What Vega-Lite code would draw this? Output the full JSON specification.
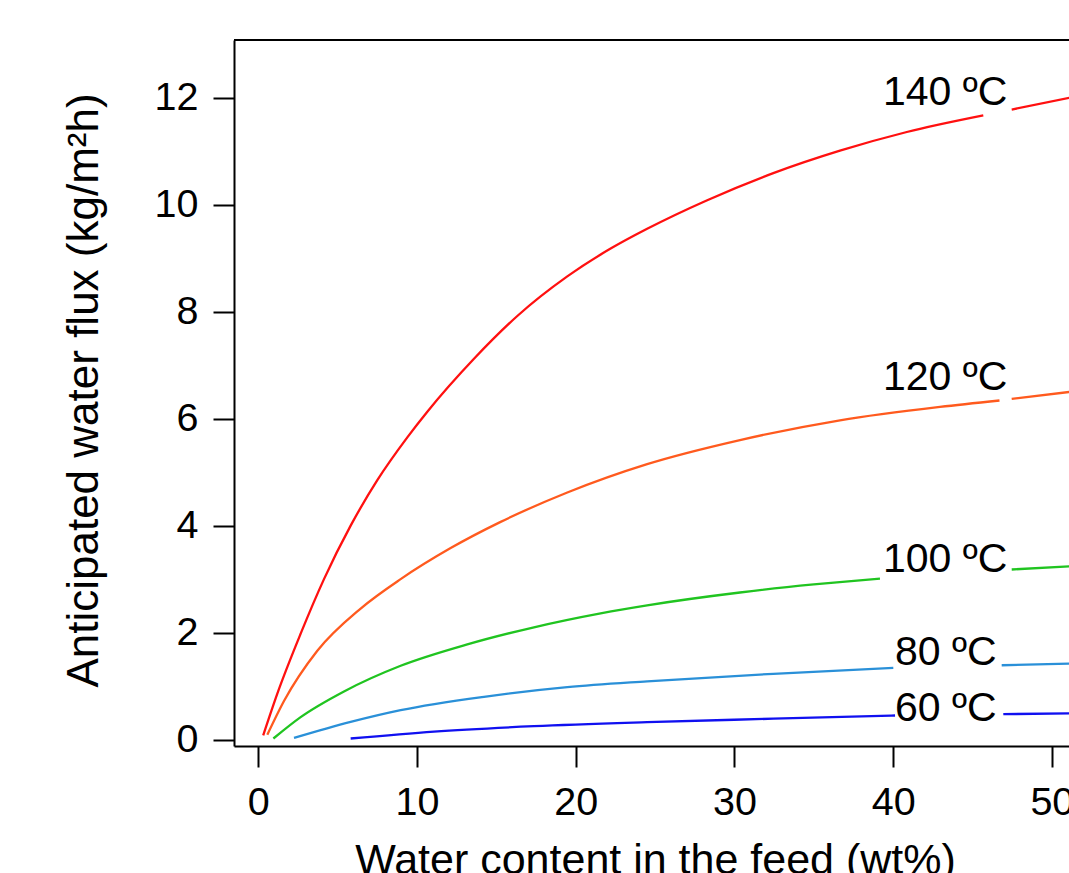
{
  "$schema": "https://vega.github.io/schema/vega-lite/v6.json",
  "autosize": {"type": "none"},
  "padding": {"left": 234, "top": 40, "right": 0, "bottom": 127},
  "width": 835,
  "height": 706,
  "background": "white",
  "config": {"view": {"stroke": null}, "font": "Liberation Sans"},
  "datasets": {
    "curves": [
      {"t": "140", "seg": "a", "x": 0.31, "y": 0.08},
      {"t": "140", "seg": "a", "x": 1.2, "y": 0.86},
      {"t": "140", "seg": "a", "x": 2.67, "y": 1.98},
      {"t": "140", "seg": "a", "x": 4.14, "y": 3.0},
      {"t": "140", "seg": "a", "x": 5.82, "y": 4.0},
      {"t": "140", "seg": "a", "x": 7.5, "y": 4.85},
      {"t": "140", "seg": "a", "x": 9.39, "y": 5.65},
      {"t": "140", "seg": "a", "x": 10.65, "y": 6.13},
      {"t": "140", "seg": "a", "x": 13.59, "y": 7.12},
      {"t": "140", "seg": "a", "x": 16.32, "y": 7.92},
      {"t": "140", "seg": "a", "x": 19.47, "y": 8.66},
      {"t": "140", "seg": "a", "x": 22.2, "y": 9.18},
      {"t": "140", "seg": "a", "x": 24.5, "y": 9.55},
      {"t": "140", "seg": "a", "x": 28.25, "y": 10.08},
      {"t": "140", "seg": "a", "x": 32.45, "y": 10.59},
      {"t": "140", "seg": "a", "x": 36.65, "y": 11.01},
      {"t": "140", "seg": "a", "x": 40.86, "y": 11.36},
      {"t": "140", "seg": "a", "x": 45.68, "y": 11.67},
      {"t": "140", "seg": "b", "x": 47.47, "y": 11.78},
      {"t": "140", "seg": "b", "x": 51.1, "y": 12.0},
      {"t": "120", "seg": "a", "x": 0.57, "y": 0.09},
      {"t": "120", "seg": "a", "x": 1.62, "y": 0.72},
      {"t": "120", "seg": "a", "x": 3.72, "y": 1.66},
      {"t": "120", "seg": "a", "x": 6.45, "y": 2.45},
      {"t": "120", "seg": "a", "x": 8.97, "y": 3.0},
      {"t": "120", "seg": "a", "x": 12.12, "y": 3.58},
      {"t": "120", "seg": "a", "x": 15.27, "y": 4.07},
      {"t": "120", "seg": "a", "x": 19.47, "y": 4.62},
      {"t": "120", "seg": "a", "x": 24.5, "y": 5.15},
      {"t": "120", "seg": "a", "x": 30.35, "y": 5.6},
      {"t": "120", "seg": "a", "x": 36.65, "y": 5.97},
      {"t": "120", "seg": "a", "x": 42.95, "y": 6.22},
      {"t": "120", "seg": "a", "x": 46.7, "y": 6.34},
      {"t": "120", "seg": "b", "x": 47.47, "y": 6.37},
      {"t": "120", "seg": "b", "x": 51.1, "y": 6.5},
      {"t": "100", "seg": "a", "x": 0.95, "y": 0.02},
      {"t": "100", "seg": "a", "x": 2.67, "y": 0.42},
      {"t": "100", "seg": "a", "x": 5.4, "y": 0.9},
      {"t": "100", "seg": "a", "x": 8.97, "y": 1.38},
      {"t": "100", "seg": "a", "x": 13.17, "y": 1.78},
      {"t": "100", "seg": "a", "x": 17.37, "y": 2.1},
      {"t": "100", "seg": "a", "x": 21.57, "y": 2.36},
      {"t": "100", "seg": "a", "x": 24.5, "y": 2.51},
      {"t": "100", "seg": "a", "x": 30.35, "y": 2.75},
      {"t": "100", "seg": "a", "x": 35.0, "y": 2.9},
      {"t": "100", "seg": "a", "x": 39.17, "y": 3.01},
      {"t": "100", "seg": "b", "x": 47.47, "y": 3.18},
      {"t": "100", "seg": "b", "x": 51.1, "y": 3.24},
      {"t": "80", "seg": "a", "x": 2.25, "y": 0.03},
      {"t": "80", "seg": "a", "x": 5.82, "y": 0.33},
      {"t": "80", "seg": "a", "x": 8.97, "y": 0.55},
      {"t": "80", "seg": "a", "x": 14.22, "y": 0.8},
      {"t": "80", "seg": "a", "x": 19.47, "y": 0.98},
      {"t": "80", "seg": "a", "x": 24.5, "y": 1.09},
      {"t": "80", "seg": "a", "x": 32.45, "y": 1.23},
      {"t": "80", "seg": "a", "x": 40.01, "y": 1.34},
      {"t": "80", "seg": "b", "x": 46.84, "y": 1.39},
      {"t": "80", "seg": "b", "x": 51.1, "y": 1.42},
      {"t": "60", "seg": "a", "x": 5.82, "y": 0.02},
      {"t": "60", "seg": "a", "x": 11.07, "y": 0.15},
      {"t": "60", "seg": "a", "x": 17.37, "y": 0.25},
      {"t": "60", "seg": "a", "x": 24.5, "y": 0.325},
      {"t": "60", "seg": "a", "x": 32.45, "y": 0.39},
      {"t": "60", "seg": "a", "x": 40.12, "y": 0.45},
      {"t": "60", "seg": "b", "x": 46.94, "y": 0.475},
      {"t": "60", "seg": "b", "x": 51.1, "y": 0.49}
    ],
    "labels": [
      {"label": "140 ºC", "x": 39.36, "y": 11.86},
      {"label": "120 ºC", "x": 39.36, "y": 6.53},
      {"label": "100 ºC", "x": 39.36, "y": 3.13},
      {"label": "80 ºC", "x": 40.12, "y": 1.39},
      {"label": "60 ºC", "x": 40.12, "y": 0.34}
    ]
  },
  "layer": [
    {
      "data": {"name": "curves"},
      "mark": {"type": "line", "interpolate": "monotone", "strokeWidth": 2.3, "clip": true},
      "encoding": {
        "x": {
          "field": "x", "type": "quantitative",
          "scale": {"domain": [-1.53, 51.08], "nice": false, "zero": false},
          "axis": {
            "title": "Water content in the feed (wt%)",
            "values": [0, 10, 20, 30, 40, 50],
            "format": "d",
            "grid": false,
            "tickSize": 21, "tickWidth": 2, "tickColor": "black",
            "domainColor": "black", "domainWidth": 2,
            "labelFontSize": 39.5, "labelColor": "black", "labelPadding": 16, "labelFont": "Liberation Sans",
            "titleFontSize": 43, "titleFontWeight": "normal", "titleColor": "black", "titleFont": "Liberation Sans",
            "titleX": 421, "titleY": 127, "titleBaseline": "alphabetic", "titleAlign": "center"
          }
        },
        "y": {
          "field": "y", "type": "quantitative",
          "scale": {"domain": [-0.12, 13.08], "nice": false, "zero": false},
          "axis": {
            "title": "Anticipated water flux (kg/m²h)",
            "values": [0, 2, 4, 6, 8, 10, 12],
            "format": "d",
            "grid": false,
            "tickSize": 21, "tickWidth": 2, "tickColor": "black",
            "domainColor": "black", "domainWidth": 2,
            "labelFontSize": 39.5, "labelColor": "black", "labelPadding": 15, "labelFont": "Liberation Sans",
            "titleFontSize": 44, "titleFontWeight": "normal", "titleColor": "black", "titleFont": "Liberation Sans",
            "titleX": -137, "titleY": 350, "titleBaseline": "alphabetic", "titleAlign": "center", "titleAngle": -90
          }
        },
        "color": {
          "field": "t", "type": "nominal",
          "scale": {"domain": ["60", "80", "100", "120", "140"], "range": ["#1010f0", "#2a90d8", "#20c420", "#ff5a1e", "#ff1010"]},
          "legend": null
        },
        "detail": {"field": "seg", "type": "nominal"}
      }
    },
    {
      "data": {"name": "labels"},
      "mark": {"type": "text", "align": "left", "baseline": "alphabetic", "fontSize": 41, "font": "Liberation Sans", "color": "black"},
      "encoding": {
        "x": {"field": "x", "type": "quantitative"},
        "y": {"field": "y", "type": "quantitative"},
        "text": {"field": "label", "type": "nominal"}
      }
    },
    {
      "data": {"values": [{}]},
      "mark": {"type": "rule", "color": "black", "strokeWidth": 2},
      "encoding": {"y": {"datum": 13.08}}
    }
  ]
}
